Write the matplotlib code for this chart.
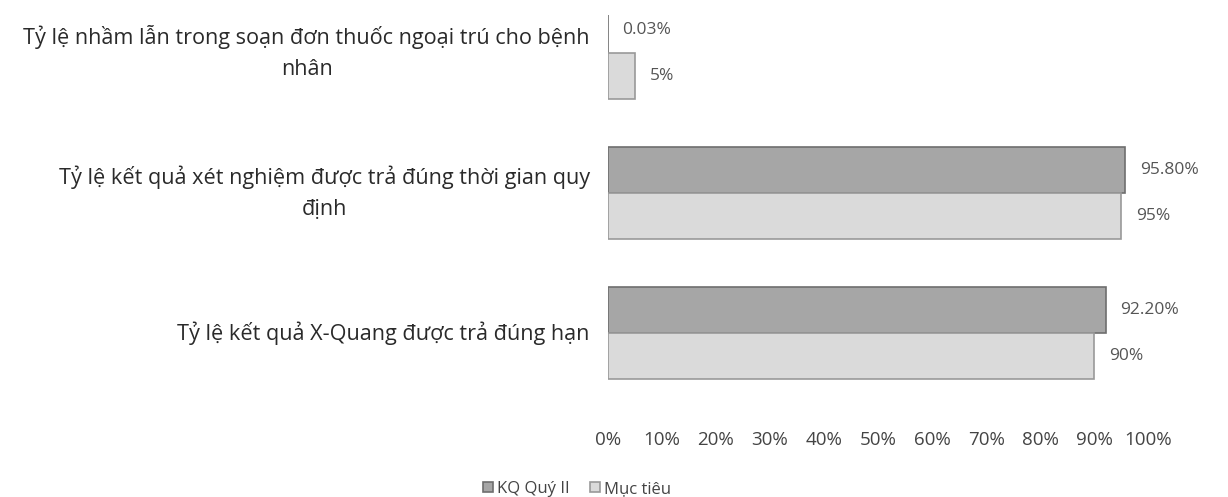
import numpy as np
import matplotlib.pyplot as plt

categories = [
    "Tỷ lệ nhầm lẫn trong soạn đơn thuốc ngoại trú cho bệnh\nnhân",
    "Tỷ lệ kết quả xét nghiệm được trả đúng thời gian quy\nđịnh",
    "Tỷ lệ kết quả X-Quang được trả đúng hạn",
]
kq_quy2 = [0.03, 95.8, 92.2]
muc_tieu = [5, 95, 90]
kq_labels = ["0.03%", "95.80%", "92.20%"]
mt_labels = ["5%", "95%", "90%"]
ticks = np.arange(0, 101, 10)

plt.rcParams['font.family'] = ['Open Sans', 'DejaVu Sans']

fig = plt.figure(figsize=(12.28, 4.97), dpi=100)
ax = fig.add_axes([0.495, 0.155, 0.44, 0.815])

y = np.arange(len(categories))
h = 0.33
dark = ax.barh(y - h / 2, kq_quy2, height=h, color='#a6a6a6', edgecolor='#6e6e6e',
               linewidth=1.2, label='KQ Quý II')
light = ax.barh(y + h / 2, muc_tieu, height=h, color='#dadada', edgecolor='#999999',
                linewidth=1.2, label='Mục tiêu')

for bar, txt in zip(dark, kq_labels):
    ax.text(bar.get_width() + 2.7, bar.get_y() + bar.get_height() / 2, txt,
            va='center', ha='left', fontsize=12.5, color='#555555')
for bar, txt in zip(light, mt_labels):
    ax.text(bar.get_width() + 2.7, bar.get_y() + bar.get_height() / 2, txt,
            va='center', ha='left', fontsize=12.5, color='#555555')

ax.set_xlim(0, 100)
ax.set_ylim(2.62, -0.27)
ax.set_xticks(ticks)
ax.set_xticklabels([f"{t}%" for t in ticks], fontsize=13.5, color='#444444')
ax.set_yticks(y)
ax.set_yticklabels(categories, fontsize=15.6, color='#2a2a2a', multialignment='center',
                   linespacing=1.65)
for lab in ax.get_yticklabels():
    lab.set_va('center')
ax.tick_params(axis='both', length=0)
ax.tick_params(axis='x', pad=8)
ax.tick_params(axis='y', pad=13)
for s in ax.spines.values():
    s.set_visible(False)

fig.legend(handles=[dark, light], loc='lower center', bbox_to_anchor=(0.47, -0.03),
           ncol=2, frameon=False, fontsize=12, handlelength=0.6, handleheight=0.6,
           columnspacing=1.2, handletextpad=0.25, labelcolor='#444444')

fig.savefig('out.png', dpi=100, facecolor='white')
